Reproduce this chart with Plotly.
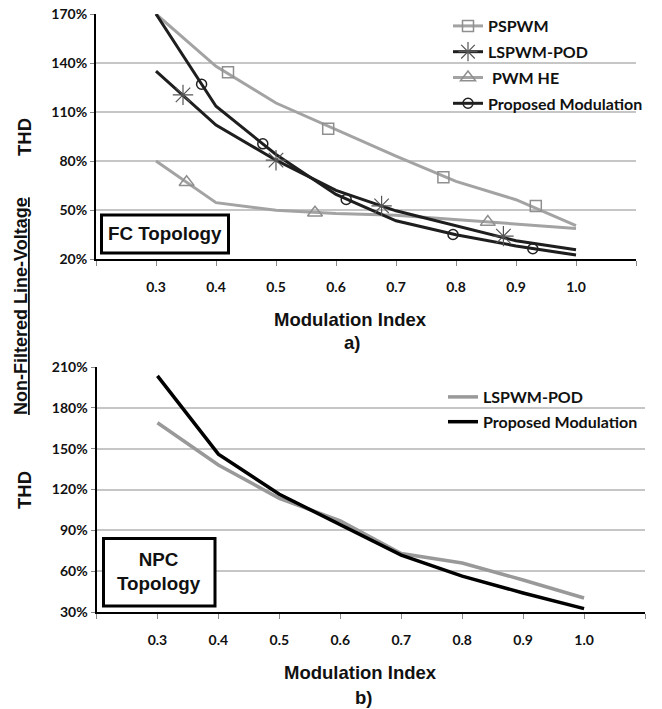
import plotly.graph_objects as go

W, H = 662, 709

# ---------------- data ----------------
mod_index = [0.3, 0.4, 0.5, 0.6, 0.7, 0.8, 0.9, 1.0]
x_tickvals = [0.2, 0.3, 0.4, 0.5, 0.6, 0.7, 0.8, 0.9, 1.0, 1.1]
x_ticktext = ["", "0.3", "0.4", "0.5", "0.6", "0.7", "0.8", "0.9", "1.0", ""]

fc_ticks = [20, 50, 80, 110, 140, 170]
fc_ticktext = ["20%", "50%", "80%", "110%", "140%", "170%"]
npc_ticks = [30, 60, 90, 120, 150, 180, 210]
npc_ticktext = ["30%", "60%", "90%", "120%", "150%", "180%", "210%"]

# FC topology THD (%)
fc_pspwm = [170, 138, 115.5, 99, 83, 67.5, 56.3, 40.5]
fc_lspwm = [135, 102, 80.5, 62, 49.5, 40.5, 31.2, 25.7]
fc_pwmhe = [80, 54.5, 49.8, 47.8, 46.8, 44, 41.3, 38.7]
fc_proposed = [170, 113.5, 84, 59.5, 43.4, 34.8, 28, 22.4]

# marker positions drawn on the FC curves
pspwm_mk_x = [0.42, 0.587, 0.779, 0.933]
pspwm_mk_y = [134.3, 99.7, 70, 52.5]
lspwm_mk_x = [0.345, 0.5, 0.676, 0.879]
lspwm_mk_y = [120.5, 80.5, 52.5, 34]
pwmhe_mk_x = [0.351, 0.565, 0.853]
pwmhe_mk_y = [67, 48.3, 42.6]
proposed_mk_x = [0.376, 0.478, 0.617, 0.795, 0.928]
proposed_mk_y = [127, 90.5, 56.5, 35, 26.3]

# NPC topology THD (%)
npc_lspwm = [169, 138, 113.5, 97, 73, 66, 53.5, 40.3]
npc_proposed = [203.5, 146, 116.5, 94, 71.8, 56.3, 44, 32.5]

# ---------------- helpers (page pixels -> paper fractions) ----------------
def px(x):
    return x / W

def py(y):
    return 1 - y / H

GRAY = "#a3a3a3"
DARK = "#1e1e1e"
TICKFONT = dict(family="Lato", size=14, color="#111", weight="bold")
LEGFONT = dict(family="Lato", size=16, color="#111", weight="bold")
TITLEFONT = dict(family="Liberation Sans", size=18.5, color="#111", weight="bold")

fig = go.Figure()

# ---- top chart lines ----
fig.add_trace(go.Scatter(x=mod_index, y=fc_pspwm, mode="lines", line=dict(color=GRAY, width=3),
                         showlegend=False, xaxis="x", yaxis="y"))
fig.add_trace(go.Scatter(x=mod_index, y=fc_pwmhe, mode="lines", line=dict(color=GRAY, width=3),
                         showlegend=False, xaxis="x", yaxis="y"))
fig.add_trace(go.Scatter(x=mod_index, y=fc_lspwm, mode="lines", line=dict(color=DARK, width=3),
                         showlegend=False, xaxis="x", yaxis="y"))
fig.add_trace(go.Scatter(x=mod_index, y=fc_proposed, mode="lines", line=dict(color=DARK, width=3),
                         showlegend=False, xaxis="x", yaxis="y"))

mk_pspwm = dict(symbol="square-open", size=11, color="#8f8f8f", line=dict(width=1.5))
mk_lspwm = dict(symbol="asterisk-open", size=17, color="#555", line=dict(width=1.2))
mk_pwmhe = dict(symbol="triangle-up-open", size=13, color="#8f8f8f", line=dict(width=1.5))
mk_prop = dict(symbol="circle-open", size=10, color="#222", line=dict(width=1.5))

fig.add_trace(go.Scatter(x=pspwm_mk_x, y=pspwm_mk_y, mode="markers", marker=mk_pspwm,
                         showlegend=False, xaxis="x", yaxis="y"))
fig.add_trace(go.Scatter(x=lspwm_mk_x, y=lspwm_mk_y, mode="markers", marker=mk_lspwm,
                         showlegend=False, xaxis="x", yaxis="y"))
fig.add_trace(go.Scatter(x=pwmhe_mk_x, y=pwmhe_mk_y, mode="markers", marker=mk_pwmhe,
                         showlegend=False, xaxis="x", yaxis="y"))
fig.add_trace(go.Scatter(x=proposed_mk_x, y=proposed_mk_y, mode="markers", marker=mk_prop,
                         showlegend=False, xaxis="x", yaxis="y"))

# legend entries (top)
for name, col, mk, grp in [("PSPWM", GRAY, mk_pspwm, "a"),
                           ("LSPWM-POD", DARK, mk_lspwm, "b"),
                           ("\u00a0PWM HE", GRAY, mk_pwmhe, "c"),
                           ("Proposed Modulation", DARK, mk_prop, "d")]:
    fig.add_trace(go.Scatter(x=[None], y=[None], mode="lines+markers", name=name,
                             line=dict(color=col, width=3), marker=mk,
                             legend="legend", legendgroup=grp, xaxis="x", yaxis="y"))

# ---- bottom chart ----
fig.add_trace(go.Scatter(x=mod_index, y=npc_lspwm, mode="lines", name="LSPWM-POD",
                         line=dict(color="#999999", width=3.5), legend="legend2",
                         legendgroup="e", xaxis="x2", yaxis="y2"))
fig.add_trace(go.Scatter(x=mod_index, y=npc_proposed, mode="lines", name="Proposed Modulation",
                         line=dict(color="#000000", width=3.5), legend="legend2",
                         legendgroup="f", xaxis="x2", yaxis="y2"))

xcommon = dict(range=[0.2, 1.1], tickvals=x_tickvals, ticktext=x_ticktext, ticks="outside",
               ticklen=5, tickwidth=1, tickcolor="#888", showline=True, linecolor="black",
               linewidth=2, showgrid=False, zeroline=False, tickfont=TICKFONT,
               ticklabelstandoff=9, fixedrange=True, automargin=False,
               ticklabeloverflow="allow")
ycommon = dict(ticks="outside", ticklen=4, tickwidth=1, tickcolor="#888", showline=True,
               linecolor="black", linewidth=2, showgrid=True, gridcolor="#c6c6c6", gridwidth=2,
               zeroline=False, tickfont=TICKFONT, fixedrange=True, automargin=False,
               ticklabeloverflow="allow")

fig.update_layout(
    template="none",
    width=W, height=H, margin=dict(l=0, r=0, t=0, b=0, pad=0, autoexpand=False),
    paper_bgcolor="white", plot_bgcolor="white",
    xaxis=dict(domain=[px(96), px(636)], anchor="y", **xcommon),
    yaxis=dict(domain=[py(259), py(14)], anchor="x", range=[20, 170], tickvals=fc_ticks,
               ticktext=fc_ticktext, **ycommon),
    xaxis2=dict(domain=[px(96.5), px(645)], anchor="y2", **xcommon),
    yaxis2=dict(domain=[py(612), py(367)], anchor="x2", range=[30, 210], tickvals=npc_ticks,
                ticktext=npc_ticktext, **ycommon),
    legend=dict(x=px(448), y=py(9), xanchor="left", yanchor="top", bgcolor="rgba(0,0,0,0)",
                font=LEGFONT, traceorder="grouped", tracegroupgap=2, itemwidth=30,
                borderwidth=0),
    legend2=dict(x=px(443), y=py(380), xanchor="left", yanchor="top", bgcolor="rgba(0,0,0,0)",
                 font=LEGFONT, traceorder="grouped", tracegroupgap=1, itemwidth=30,
                 borderwidth=0),
)

# boxes
fig.add_shape(type="rect", xref="paper", yref="paper", x0=px(101.5), x1=px(228.5),
              y0=py(253), y1=py(215), line=dict(color="black", width=3), fillcolor="white")
fig.add_shape(type="rect", xref="paper", yref="paper", x0=px(103.5), x1=px(215),
              y0=py(606), y1=py(538.5), line=dict(color="black", width=3), fillcolor="white")

BOXFONT = dict(family="Liberation Sans", size=18.8, color="#111", weight="bold")
annos = [
    dict(text="FC Topology", x=px(165), y=py(234), font=BOXFONT),
    dict(text="NPC<br>Topology", x=px(159), y=py(571), font=BOXFONT),
    dict(text="Modulation Index", x=px(350), y=py(319), font=TITLEFONT),
    dict(text="a)", x=px(352), y=py(342), font=TITLEFONT),
    dict(text="Modulation Index", x=px(360), y=py(672), font=TITLEFONT),
    dict(text="b)", x=px(363), y=py(697), font=TITLEFONT),
    dict(text="THD", x=px(24), y=py(137), textangle=-90, font=TITLEFONT),
    dict(text="THD", x=px(24), y=py(490), textangle=-90, font=TITLEFONT),
    dict(text="Non-Filtered Line-Voltage", x=px(21), y=py(306), textangle=-90,
         font=dict(family="Liberation Sans", size=18, color="#111", weight="bold",
                   lineposition="under")),
]
for a in annos:
    fig.add_annotation(xref="paper", yref="paper", showarrow=False, xanchor="center",
                       yanchor="middle", **a)

# place the figure at the page corner (remove the default body margin), no modebar
fig.write_html("out.html", config={"displayModeBar": False},
               post_script="document.body.style.margin='0px';")
